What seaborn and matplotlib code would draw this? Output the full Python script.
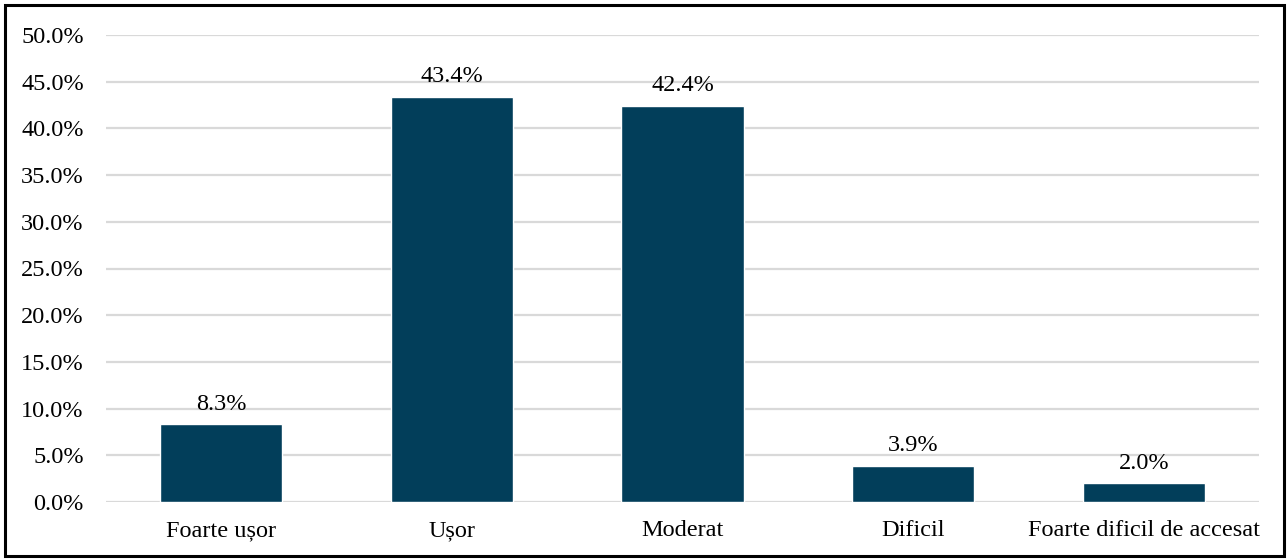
import matplotlib
matplotlib.use("Agg")
import matplotlib.pyplot as plt
from matplotlib.patches import Rectangle
from matplotlib.ticker import PercentFormatter
import seaborn as sns
import pandas as pd

categories = ["Foarte ușor", "Ușor", "Moderat", "Dificil", "Foarte dificil de accesat"]
shares = [8.3, 43.4, 42.4, 3.9, 2.0]
yticks = [0, 5, 10, 15, 20, 25, 30, 35, 40, 45, 50]

bar_color = "#023E5A"
grid_color = "#D9D9D9"

sns.set_theme(style="white")
plt.rcParams["font.family"] = ["Liberation Serif", "DejaVu Serif"]

df = pd.DataFrame({"cat": categories, "val": shares})

fig = plt.figure(figsize=(12.88, 5.6), dpi=100)
ax = fig.add_axes([106 / 1288, 1 - 502 / 560, (1259 - 106) / 1288, (502 - 35) / 560])

sns.barplot(data=df, x="cat", y="val", color=bar_color, width=0.53,
            saturation=1, ax=ax, zorder=3)

ax.set_ylim(0, 50)
ax.set_yticks(yticks)
ax.yaxis.set_major_formatter(PercentFormatter(decimals=1))
ax.grid(axis="y", color=grid_color, linewidth=1.6, zorder=0)
ax.set_axisbelow(True)
for s in ax.spines.values():
    s.set_visible(False)
ax.tick_params(axis="both", length=0, labelsize=17.5, colors="black")
ax.tick_params(axis="y", pad=16)
ax.tick_params(axis="x", pad=13)
ax.set_xlabel("")
ax.set_ylabel("")

for i, v in enumerate(shares):
    ax.annotate(f"{v:.1f}%", (i, v), xytext=(0, 7), textcoords="offset points",
                ha="center", va="bottom", fontsize=17.5, color="black")

fig.patches.append(Rectangle((5 / 1288, 4 / 560), 1279 / 1288, 551 / 560,
                             transform=fig.transFigure, fill=False,
                             edgecolor="black", linewidth=2.2))

fig.savefig("out.png", dpi=100)
